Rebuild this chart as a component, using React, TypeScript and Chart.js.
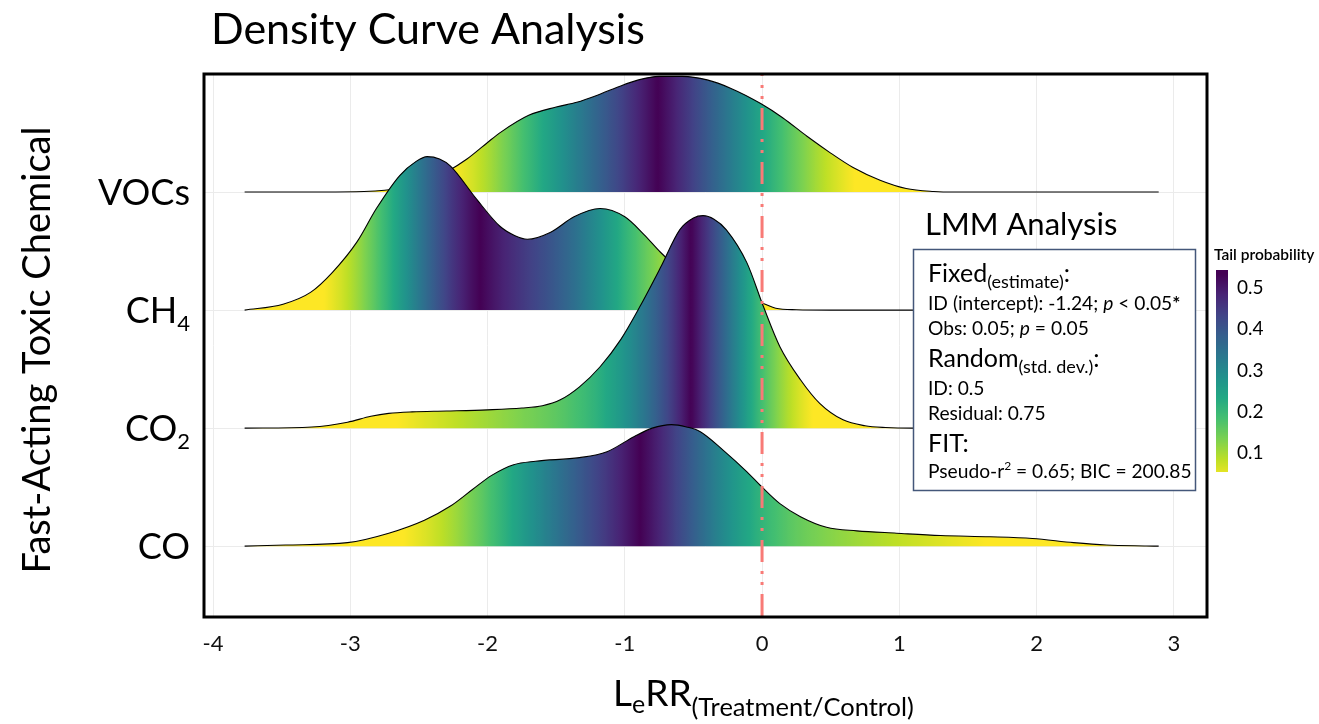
import React, { useEffect, useRef } from "react";
import { Chart, registerables } from "chart.js";

Chart.register(...registerables);

const FONT = "Lato, 'Open Sans', sans-serif";

// ---------- text ----------
const chartTitle = "Density Curve Analysis";
const yAxisTitle = "Fast-Acting Toxic Chemical";
const legendTitle = "Tail probability";
const boxTitle = "LMM Analysis";

// ---------- axes ----------
const xTicks = [-4, -3, -2, -1, 0, 1, 2, 3];
const xMin = -4.066;
const xMax = 3.242;
const yMin = 0.4;
const yMax = 5.0;
const categoryPositions = [1, 2, 3, 4];
const categoryMain = ["CO", "CO", "CH", "VOCs"];
const categorySub = ["", "2", "4", ""];
const referenceX = 0;
const colorbarTicks = [0.1, 0.2, 0.3, 0.4, 0.5];

// ---------- ridge data (x = LeRR, density height in category units) ----------
const coX = [-3.77, -3.47, -3.02, -2.72, -2.46, -2.27, -2.11, -1.97, -1.81, -1.65, -1.33, -1.13, -0.93, -0.8, -0.66, -0.55, -0.45, -0.28, -0.11, 0.0, 0.13, 0.28, 0.47, 0.69, 0.98, 1.3, 1.66, 1.97, 2.27, 2.51, 2.8, 2.89];
const coDensity = [0, 0.01, 0.03, 0.11, 0.22, 0.34, 0.48, 0.6, 0.69, 0.72, 0.75, 0.8, 0.93, 1.0, 1.03, 1.01, 0.97, 0.81, 0.63, 0.5, 0.36, 0.25, 0.16, 0.13, 0.11, 0.09, 0.08, 0.065, 0.03, 0.01, 0.002, 0];

const co2X = [-3.77, -3.28, -3.02, -2.85, -2.72, -2.55, -2.3, -2.0, -1.75, -1.6, -1.47, -1.33, -1.18, -1.03, -0.89, -0.74, -0.6, -0.5, -0.43, -0.35, -0.26, -0.11, 0.01, 0.13, 0.28, 0.42, 0.59, 0.75, 0.9, 1.1, 2.89];
const co2Density = [0, 0.01, 0.05, 0.1, 0.125, 0.138, 0.145, 0.155, 0.17, 0.19, 0.24, 0.35, 0.52, 0.75, 1.03, 1.36, 1.68, 1.78, 1.8, 1.77, 1.68, 1.4, 1.03, 0.69, 0.41, 0.21, 0.07, 0.02, 0.005, 0, 0];

const ch4X = [-3.77, -3.49, -3.29, -3.13, -2.95, -2.81, -2.64, -2.52, -2.44, -2.35, -2.27, -2.08, -1.91, -1.8, -1.71, -1.54, -1.37, -1.18, -1.0, -0.86, -0.74, -0.6, -0.45, -0.3, -0.15, 0.0, 0.1, 0.25, 0.5, 2.89];
const ch4Density = [0, 0.05, 0.15, 0.32, 0.58, 0.86, 1.14, 1.26, 1.3, 1.28, 1.22, 0.94, 0.71, 0.63, 0.6, 0.66, 0.79, 0.86, 0.79, 0.64, 0.49, 0.34, 0.22, 0.14, 0.09, 0.06, 0.015, 0.003, 0, 0];

const vocsX = [-3.77, -3.2, -2.9, -2.75, -2.6, -2.45, -2.3, -2.15, -2.0, -1.9, -1.7, -1.5, -1.35, -1.2, -1.05, -0.9, -0.75, -0.58, -0.4, -0.23, -0.01, 0.15, 0.33, 0.5, 0.66, 0.86, 1.05, 1.25, 1.4, 2.89];
const vocsDensity = [0, 0, 0.004, 0.015, 0.04, 0.09, 0.17, 0.28, 0.42, 0.51, 0.65, 0.72, 0.76, 0.82, 0.89, 0.95, 0.98, 0.98, 0.95, 0.88, 0.75, 0.63, 0.47, 0.33, 0.21, 0.1, 0.03, 0.005, 0, 0];

// drawing order: first entry drawn on top
const ridgeNames = ["CO", "CO2", "CH4", "VOCs"];
const ridgeXs = [coX, co2X, ch4X, vocsX];
const ridgeDensities = [coDensity, co2Density, ch4Density, vocsDensity];
const ridgeBaselines = [1, 2, 3, 4];

// ---------- colour scale ----------
const VIRIDIS = ["#440154", "#482475", "#414487", "#355F8D", "#2A788E", "#21918C", "#22A884", "#44BF70", "#7AD151", "#BDDF26", "#FDE725"];
const TAIL_HI = 0.5;
const TAIL_LO = 0.054;
const LEGEND_TOP = 0.544;
const TAIL_GAMMA = 0.7;

function hexRgb(h: string) {
  const n = parseInt(h.slice(1), 16);
  return [(n >> 16) & 255, (n >> 8) & 255, n & 255];
}
const VIR_RGB = VIRIDIS.map(hexRgb);
function viridis(t: number) {
  t = Math.max(0, Math.min(1, t));
  const p = t * (VIR_RGB.length - 1);
  const i = Math.min(VIR_RGB.length - 2, Math.floor(p));
  const f = p - i;
  const a = VIR_RGB[i], b = VIR_RGB[i + 1];
  const c = a.map((v, k) => Math.round(v + (b[k] - v) * f));
  return `rgb(${c[0]},${c[1]},${c[2]})`;
}
// ridge fill: tail probability of the ridge's cumulative distribution
function ridgeColor(tp: number) {
  const v = TAIL_HI * Math.pow(Math.max(0, tp) / TAIL_HI, TAIL_GAMMA);
  return viridis((TAIL_HI - v) / (TAIL_HI - TAIL_LO));
}
// legend bar colour (linear in value)
function legendColor(v: number) {
  return viridis((LEGEND_TOP - v) / (LEGEND_TOP - TAIL_LO) * 0.98 - 0.02);
}

function interp(xs: number[], ys: number[], x: number) {
  if (x <= xs[0]) return ys[0];
  for (let i = 1; i < xs.length; i++) {
    if (x <= xs[i]) {
      const f = (x - xs[i - 1]) / (xs[i] - xs[i - 1]);
      return ys[i - 1] + (ys[i] - ys[i - 1]) * f;
    }
  }
  return ys[ys.length - 1];
}

const gradCache: Record<string, CanvasGradient> = {};
function ridgeGradient(chart: any, idx: number) {
  const area = chart.chartArea;
  const sx = chart.scales && chart.scales.x;
  if (!area || !sx) return "rgba(0,0,0,0)";
  const key = idx + ":" + Math.round(area.left) + ":" + Math.round(area.right);
  if (gradCache[key]) return gradCache[key];
  const xs = ridgeXs[idx], hs = ridgeDensities[idx];
  const x0 = xs[0], x1 = xs[xs.length - 1];
  const N = 400;
  const grid: number[] = [], dens: number[] = [];
  for (let i = 0; i <= N; i++) {
    const x = x0 + ((x1 - x0) * i) / N;
    grid.push(x);
    dens.push(interp(xs, hs, x));
  }
  const cum = [0];
  for (let i = 1; i <= N; i++) cum.push(cum[i - 1] + ((dens[i] + dens[i - 1]) / 2) * (grid[i] - grid[i - 1]));
  const total = cum[N];
  const p0 = sx.getPixelForValue(x0), p1 = sx.getPixelForValue(x1);
  const g = chart.ctx.createLinearGradient(p0, 0, p1, 0);
  for (let i = 0; i <= N; i++) {
    const c = cum[i] / total;
    g.addColorStop(i / N, ridgeColor(Math.min(c, 1 - c)));
  }
  gradCache[key] = g;
  return g;
}

type Run = { text: string; size: number; italic?: boolean; bold?: boolean; dy?: number };
function drawRuns(ctx: CanvasRenderingContext2D, x: number, y: number, runs: Run[]) {
  for (const r of runs) {
    ctx.font = `${r.italic ? "italic " : ""}${r.bold ? "bold " : ""}${r.size}px ${FONT}`;
    ctx.fillText(r.text, x, y + (r.dy || 0));
    x += ctx.measureText(r.text).width;
  }
  return x;
}
function runsWidth(ctx: CanvasRenderingContext2D, runs: Run[]) {
  let w = 0;
  for (const r of runs) {
    ctx.font = `${r.italic ? "italic " : ""}${r.bold ? "bold " : ""}${r.size}px ${FONT}`;
    w += ctx.measureText(r.text).width;
  }
  return w;
}

const overlayPlugin = {
  id: "overlay",
  afterDatasetsDraw(chart: any) {
    const { ctx, chartArea: a, scales } = chart;
    const px = scales.x.getPixelForValue(referenceX);
    ctx.save();
    ctx.strokeStyle = "#F87A76";
    ctx.lineWidth = 3;
    ctx.setLineDash([22, 9, 3, 8, 3, 9]);
    ctx.lineDashOffset = 20;
    ctx.beginPath();
    ctx.moveTo(px, a.top);
    ctx.lineTo(px, a.bottom);
    ctx.stroke();
    ctx.restore();

    ctx.save();
    ctx.strokeStyle = "#000";
    ctx.lineWidth = 3;
    ctx.strokeRect(a.left, a.top, a.right - a.left, a.bottom - a.top);
    ctx.restore();
  },
  afterDraw(chart: any) {
    const { ctx, scales } = chart;
    ctx.save();
    ctx.fillStyle = "#000";
    ctx.textBaseline = "alphabetic";
    ctx.textAlign = "left";

    // title
    ctx.font = `43px ${FONT}`;
    ctx.fillText(chartTitle, 211, 44);

    // y axis title
    ctx.save();
    ctx.translate(50, 350);
    ctx.rotate(-Math.PI / 2);
    ctx.textAlign = "center";
    ctx.font = `38px ${FONT}`;
    ctx.fillText(yAxisTitle, 0, 0);
    ctx.restore();

    // category labels
    categoryPositions.forEach((v, i) => {
      const y = scales.y.getPixelForValue(v);
      const runs: Run[] = [{ text: categoryMain[i], size: 36 }];
      if (categorySub[i]) runs.push({ text: categorySub[i], size: 22, dy: 8 });
      const w = runsWidth(ctx, runs);
      drawRuns(ctx, 190 - w, y + 13, runs);
    });

    // x axis title
    drawRuns(ctx, 613, 706, [
      { text: "L", size: 37 },
      { text: "e", size: 25, dy: 7 },
      { text: "RR", size: 37 },
      { text: "(Treatment/Control)", size: 25.5, dy: 10 },
    ]);

    // LMM box
    ctx.font = `31px ${FONT}`;
    ctx.fillText(boxTitle, 925, 235);
    ctx.fillStyle = "#fff";
    ctx.fillRect(913.5, 249.5, 282, 241);
    ctx.strokeStyle = "#44577A";
    ctx.lineWidth = 1.5;
    ctx.strokeRect(913.5, 249.5, 282, 241);
    ctx.fillStyle = "#000";
    const bx = 928;
    const body = 19.2;
    drawRuns(ctx, bx, 282, [
      { text: "Fixed", size: 25 },
      { text: "(estimate)", size: 18, dy: 6 },
      { text: ":", size: 25 },
    ]);
    drawRuns(ctx, bx, 310, [
      { text: "ID (intercept): -1.24; ", size: body },
      { text: "p", size: body, italic: true },
      { text: " < 0.05", size: body },
      { text: "*", size: body, bold: true },
    ]);
    drawRuns(ctx, bx, 335, [
      { text: "Obs: 0.05; ", size: body },
      { text: "p", size: body, italic: true },
      { text: " = 0.05", size: body },
    ]);
    drawRuns(ctx, bx, 367, [
      { text: "Random", size: 25 },
      { text: "(std. dev.)", size: 18, dy: 6 },
      { text: ":", size: 25 },
    ]);
    drawRuns(ctx, bx, 395, [{ text: "ID: 0.5", size: body }]);
    drawRuns(ctx, bx, 420, [{ text: "Residual: 0.75", size: body }]);
    drawRuns(ctx, bx, 452, [{ text: "FIT:", size: 25 }]);
    drawRuns(ctx, bx, 478, [
      { text: "Pseudo-r", size: body },
      { text: "2", size: 12, dy: -8 },
      { text: " = 0.65; BIC = 200.85", size: body },
    ]);

    // colour bar
    ctx.font = `600 15.5px ${FONT}`;
    ctx.fillText(legendTitle, 1214, 260);
    const barTop = 270, barBottom = 472, barL = 1216, barW = 12;
    const valAt = (y: number) => 0.1 + (453 - y) / 412.5;
    for (let y = barTop; y < barBottom; y++) {
      ctx.fillStyle = legendColor(valAt(y + 0.5));
      ctx.fillRect(barL, y, barW, 1);
    }
    ctx.fillStyle = "#000";
    ctx.font = `19px ${FONT}`;
    ctx.textBaseline = "middle";
    colorbarTicks.forEach((v) => {
      const y = 453 - (v - 0.1) * 412.5;
      ctx.fillText(v.toFixed(1), 1237, y);
    });
    ctx.restore();
  },
};

export default function App() {
  const canvasRef = useRef<HTMLCanvasElement | null>(null);

  useEffect(() => {
    const canvas = canvasRef.current;
    if (!canvas) return;
    const datasets = ridgeNames.map((name, i) => ({
      label: name,
      data: ridgeXs[i].map((x, k) => ({ x, y: ridgeBaselines[i] + ridgeDensities[i][k] })),
      borderColor: "#000",
      borderWidth: 1.1,
      pointRadius: 0,
      cubicInterpolationMode: "monotone" as const,
      fill: { value: ridgeBaselines[i] },
      backgroundColor: (ctx: any) => ridgeGradient(ctx.chart, i),
    }));

    const chart = new Chart(canvas, {
      type: "line",
      data: { datasets },
      options: {
        animation: false,
        responsive: false,
        devicePixelRatio: 1,
        layout: { padding: { left: 204, right: 112, top: 74, bottom: 67 } },
        plugins: { legend: { display: false }, tooltip: { enabled: false } },
        scales: {
          x: {
            type: "linear",
            min: xMin,
            max: xMax,
            afterBuildTicks: (s: any) => {
              s.ticks = xTicks.map((v) => ({ value: v }));
            },
            afterFit: (s: any) => {
              s.height = 40;
            },
            ticks: {
              font: { family: FONT, size: 22 },
              color: "#111",
              padding: 14,
              maxRotation: 0,
            },
            grid: { color: "#EBEBEB", lineWidth: 1, drawTicks: false },
            border: { display: false },
          },
          y: {
            type: "linear",
            min: yMin,
            max: yMax,
            afterBuildTicks: (s: any) => {
              s.ticks = categoryPositions.map((v) => ({ value: v }));
            },
            afterFit: (s: any) => {
              s.width = 0;
            },
            ticks: { display: false },
            grid: { color: "#EBEBEB", lineWidth: 1, drawTicks: false },
            border: { display: false },
          },
        },
      },
      plugins: [overlayPlugin],
    });
    return () => chart.destroy();
  }, []);

  return (
    <div style={{ position: "fixed", left: 0, top: 0, width: 1319, height: 724, background: "#fff" }}>
      <canvas ref={canvasRef} width={1319} height={724} style={{ display: "block" }} />
    </div>
  );
}
